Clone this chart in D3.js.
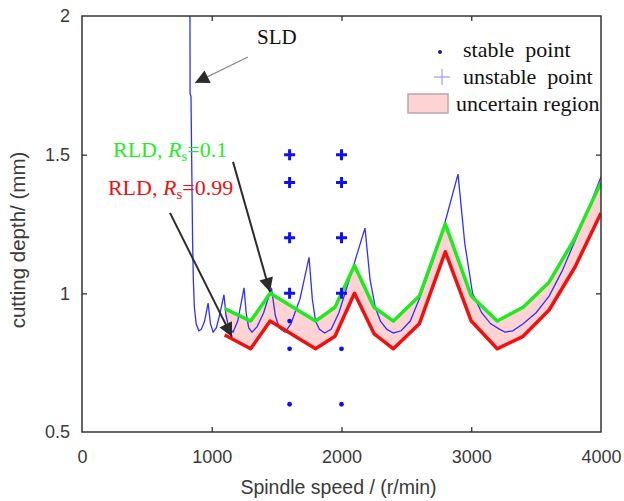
<!DOCTYPE html>
<html>
<head>
<meta charset="utf-8">
<script src="https://cdn.jsdelivr.net/npm/d3@7"></script>
<style>
  body { margin: 0; background: #fff; }
  svg { display: block; }
</style>
</head>
<body>
<svg id="chart" width="624" height="501"></svg>
<script>
// Chart data
var xTicks = [0, 1000, 2000, 3000, 4000];
var yTicks = [0.5, 1, 1.5, 2];

// speed breakpoints of the two robust lobe curves
var rldSpeed = [1100, 1300, 1450, 1800, 1950, 2100, 2250, 2400, 2600, 2800, 3000, 3200, 3400, 3600, 3800, 4000];
var rld01 = [0.945, 0.90, 1.0, 0.90, 0.95, 1.10, 0.95, 0.90, 0.99, 1.25, 0.99, 0.90, 0.95, 1.04, 1.20, 1.40];
var rld099 = [0.85, 0.80, 0.90, 0.80, 0.845, 1.0, 0.855, 0.80, 0.89, 1.15, 0.90, 0.80, 0.845, 0.94, 1.095, 1.29];

// stability lobe diagram (nominal)
var sldSpeed = [832, 833, 840, 845, 852, 858, 866, 880, 900, 920, 945, 972, 990, 1011, 1035, 1060, 1094,
  1110, 1130, 1164, 1200, 1249, 1265, 1285, 1310, 1350, 1400, 1460, 1490, 1520, 1564, 1610, 1680, 1750,
  1775, 1800, 1830, 1870, 1920, 1980, 2060, 2181, 2220, 2260, 2300, 2350, 2400, 2460, 2530, 2600, 2700,
  2800, 2898, 2950, 3010, 3080, 3150, 3220, 3260, 3320, 3400, 3500, 3600, 3700, 3800, 3900, 4000];
var sldDepth = [2.0, 1.72, 1.71, 1.5, 1.2, 1.05, 0.95, 0.89, 0.865, 0.87, 0.90, 0.965, 0.89, 0.86, 0.875, 0.92, 0.995,
  0.92, 0.88, 0.86, 0.90, 1.02, 0.93, 0.875, 0.86, 0.88, 0.93, 1.02, 0.92, 0.875, 0.86, 0.89, 0.98, 1.13,
  0.98, 0.90, 0.87, 0.857, 0.87, 0.93, 1.05, 1.235, 1.05, 0.95, 0.90, 0.87, 0.857, 0.865, 0.90, 0.98, 1.11,
  1.26, 1.43, 1.18, 1.0, 0.93, 0.89, 0.87, 0.86, 0.865, 0.89, 0.93, 0.99, 1.08, 1.19, 1.30, 1.42];

// cutting tests
var stableSpeed = [1600, 1600, 1600, 2000, 2000];
var stableDepth = [0.9, 0.8, 0.6, 0.8, 0.6];
var unstableSpeed = [1600, 1600, 1600, 1600, 2000, 2000, 2000, 2000];
var unstableDepth = [1.5, 1.4, 1.2, 1.0, 1.5, 1.4, 1.2, 1.0];

// annotation arrows: [from speed, from depth, to speed, to depth]
var sldArrow = [1279, 1.852, 871, 1.759];
var greenArrow = [1164, 1.474, 1449, 1.005];
var redArrow = [678, 1.29, 1156, 0.843];

var margin = { top: 16, right: 23, bottom: 69, left: 82 };
var width = 624 - margin.left - margin.right;
var height = 501 - margin.top - margin.bottom;

var svg = d3.select("#chart");
var g = svg.append("g")
  .attr("transform", "translate(" + margin.left + "," + margin.top + ")");

var x = d3.scaleLinear().domain([0, 4000]).range([0, width]);
var y = d3.scaleLinear().domain([0.5, 2]).range([height, 0]);

var axisColor = "#333";
var labelColor = "#3a3a3a";

g.append("clipPath").attr("id", "clip")
  .append("rect").attr("width", width).attr("height", height);

var plot = g.append("g").attr("clip-path", "url(#clip)");

// uncertain region between the two robust curves
var band = rldSpeed.map(function(s, i) { return { s: s, hi: rld01[i], lo: rld099[i] }; });
plot.append("path")
  .datum(band)
  .attr("fill", "#ffd3d3")
  .attr("d", d3.area()
    .x(function(d) { return x(d.s); })
    .y0(function(d) { return y(d.lo); })
    .y1(function(d) { return y(d.hi); }));

// SLD
var sld = sldSpeed.map(function(s, i) { return { s: s, v: sldDepth[i] }; });
var line = d3.line()
  .x(function(d) { return x(d.s); })
  .y(function(d) { return y(d.v); });

plot.append("path")
  .datum(sld)
  .attr("fill", "none")
  .attr("stroke", "#3030ff")
  .attr("stroke-width", 1.3)
  .attr("d", line);

// robust curves
plot.append("path")
  .datum(rldSpeed.map(function(s, i) { return { s: s, v: rld01[i] }; }))
  .attr("fill", "none")
  .attr("stroke", "#1eea1e")
  .attr("stroke-width", 3.5)
  .attr("stroke-linejoin", "round")
  .attr("d", line);

plot.append("path")
  .datum(rldSpeed.map(function(s, i) { return { s: s, v: rld099[i] }; }))
  .attr("fill", "none")
  .attr("stroke", "#f01010")
  .attr("stroke-width", 3.5)
  .attr("stroke-linejoin", "round")
  .attr("d", line);

// test points
g.selectAll(".stable")
  .data(stableSpeed)
  .enter().append("circle")
  .attr("cx", function(d) { return x(d); })
  .attr("cy", function(d, i) { return y(stableDepth[i]); })
  .attr("r", 2.4)
  .attr("fill", "#1010f0");

g.selectAll(".unstable")
  .data(unstableSpeed)
  .enter().append("path")
  .attr("transform", function(d, i) { return "translate(" + x(d) + "," + y(unstableDepth[i]) + ")"; })
  .attr("d", "M-5.5,0H5.5M0,-5.5V5.5")
  .attr("stroke", "#1010f0")
  .attr("stroke-width", 3);

// axes box
g.append("rect")
  .attr("width", width).attr("height", height)
  .attr("fill", "none").attr("stroke", axisColor).attr("stroke-width", 1.5);

var inner = [1000, 2000, 3000];
g.append("g").attr("transform", "translate(0," + height + ")")
  .call(d3.axisBottom(x).tickValues(xTicks).tickSize(0).tickPadding(18).tickFormat(d3.format("d")))
  .call(function(a) {
    a.select(".domain").remove();
    a.selectAll("text").attr("fill", labelColor).style("font", "18px 'Liberation Sans', Arial, sans-serif");
  });

g.append("g")
  .call(d3.axisLeft(y).tickValues(yTicks).tickSize(0).tickPadding(12).tickFormat(function(d) { return d; }))
  .call(function(a) {
    a.select(".domain").remove();
    a.selectAll("text").attr("fill", labelColor).style("font", "18px 'Liberation Sans', Arial, sans-serif");
  });

// inward tick marks on all four sides
function inTicks(a) {
  a.select(".domain").remove();
  a.selectAll("line").attr("stroke", axisColor).attr("stroke-width", 1.3);
}
g.append("g").attr("transform", "translate(0," + height + ")")
  .call(d3.axisTop(x).tickValues(inner).tickSize(5).tickFormat("")).call(inTicks);
g.append("g")
  .call(d3.axisBottom(x).tickValues(inner).tickSize(5).tickFormat("")).call(inTicks);
g.append("g")
  .call(d3.axisRight(y).tickValues([1, 1.5]).tickSize(5).tickFormat("")).call(inTicks);
g.append("g").attr("transform", "translate(" + width + ",0)")
  .call(d3.axisLeft(y).tickValues([1, 1.5]).tickSize(5).tickFormat("")).call(inTicks);

// axis titles
svg.append("text")
  .attr("x", margin.left + width / 2 - 3)
  .attr("y", 494)
  .attr("text-anchor", "middle")
  .attr("fill", labelColor)
  .style("font", "19.5px 'Liberation Sans', Arial, sans-serif")
  .text("Spindle speed / (r/min)");

svg.append("text")
  .attr("transform", "translate(25,240) rotate(-90)")
  .attr("text-anchor", "middle")
  .attr("fill", labelColor)
  .style("font", "20.5px 'Liberation Sans', Arial, sans-serif")
  .text("cutting depth/ (mm)");

// arrows
var defs = svg.append("defs");
defs.append("marker")
  .attr("id", "headBig")
  .attr("viewBox", "0 0 10 10")
  .attr("refX", 10).attr("refY", 5)
  .attr("markerWidth", 17).attr("markerHeight", 14)
  .attr("markerUnits", "userSpaceOnUse")
  .attr("orient", "auto")
  .append("path").attr("d", "M0,0L10,5L0,10Z").attr("fill", "#2b2b2b");

function arrow(a, color, w) {
  g.append("line")
    .attr("x1", x(a[0])).attr("y1", y(a[1]))
    .attr("x2", x(a[2])).attr("y2", y(a[3]))
    .attr("stroke", color).attr("stroke-width", w)
    .attr("marker-end", "url(#headBig)");
}
arrow(sldArrow, "#8a8a8a", 1.2);
arrow(greenArrow, "#2b2b2b", 2);
arrow(redArrow, "#2b2b2b", 2);

var serif = "'Liberation Serif', 'Times New Roman', serif";

g.append("text")
  .attr("x", x(1349)).attr("y", y(1.9))
  .style("font", "21px " + serif).attr("fill", "#111")
  .text("SLD");

function rldLabel(sx, sy, val, color) {
  var t = g.append("text")
    .attr("x", x(sx)).attr("y", y(sy))
    .style("font", "22px " + serif).attr("fill", color);
  t.append("tspan").text("RLD, ");
  t.append("tspan").style("font-style", "italic").text("R");
  t.append("tspan").attr("dy", 4).style("font-size", "15px").text("s");
  t.append("tspan").attr("dy", -4).text("=" + val);
}
rldLabel(239, 1.49, "0.1", "#22ee22");
rldLabel(200, 1.355, "0.99", "#f01010");

// legend
var legend = svg.append("g").style("font", "22px " + serif).attr("fill", "#111");
legend.append("circle").attr("cx", 440).attr("cy", 52).attr("r", 2).attr("fill", "#1a1a9a");
legend.append("text").attr("x", 463).attr("y", 57).attr("xml:space", "preserve").text("stable  point");
legend.append("path").attr("d", "M434,77H450M442,69V85").attr("stroke", "#8888ff").attr("stroke-width", 1);
legend.append("text").attr("x", 463).attr("y", 84).attr("xml:space", "preserve").text("unstable  point");
legend.append("rect").attr("x", 408).attr("y", 94).attr("width", 40).attr("height", 19)
  .attr("fill", "#ffd3d3").attr("stroke", "#b8a8a8").attr("stroke-width", 1.5);
legend.append("text").attr("x", 456).attr("y", 111).text("uncertain region");
</script>
</body>
</html>
